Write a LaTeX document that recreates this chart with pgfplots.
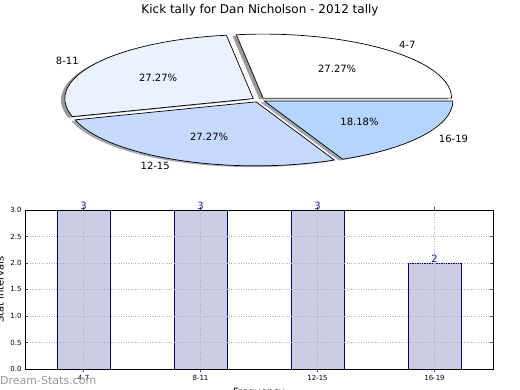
\documentclass[border=0pt]{standalone}
\usepackage{pgfplots}
\pgfplotsset{compat=1.18}
\usepackage{pgfplotstable}
\usepackage{fontspec}
\setmainfont{DejaVu Sans}
\definecolor{wA}{HTML}{FFFFFF}
\definecolor{wB}{HTML}{EBF2FF}
\definecolor{wC}{HTML}{C6D9FF}
\definecolor{wD}{HTML}{B3D5FF}
\definecolor{barfill}{HTML}{CCCCE5}
\definecolor{navy}{HTML}{000080}
\definecolor{valblue}{HTML}{1A1A99}
\definecolor{shadowgray}{HTML}{9A9A9A}

\pgfplotstableread{
x label count
0 4-7 3
1 8-11 3
2 12-15 3
3 16-19 2
}\tally

% pie data (same counts)
\def\cA{3}\def\cB{3}\def\cC{3}\def\cD{2}
\pgfmathsetmacro\ctot{\cA+\cB+\cC+\cD}
\pgfmathsetmacro\aA{0}
\pgfmathsetmacro\aB{\cA/\ctot*360}
\pgfmathsetmacro\aC{(\cA+\cB)/\ctot*360}
\pgfmathsetmacro\aD{(\cA+\cB+\cC)/\ctot*360}
\pgfmathsetmacro\aE{360}

\def\pieexplode{0.035}
\def\rx{188.5pt}
\def\ry{64pt}
\tikzset{
  pielabel/.style={font=\fontsize{10}{12}\selectfont, inner sep=0pt},
}
\newcommand\pieslice[5]{% start, end, fill, dx, dy
  \pgfmathsetmacro\pmid{(#1+#2)/2}%
  \pgfmathsetmacro\psx{\pieexplode*cos(\pmid)+#4}%
  \pgfmathsetmacro\psy{\pieexplode*sin(\pmid)+#5}%
  \edef\pcmd{\noexpand\filldraw[#3] (axis cs:\psx,\psy) -- ++(#1:\rx\space and \ry) arc[start angle=#1, end angle=#2, x radius=\rx, y radius=\ry] -- cycle;}%
  \pcmd}
\newcommand\pielabels[4]{% start, end, label, pct
  \pgfmathsetmacro\pmid{(#1+#2)/2}%
  \pgfmathsetmacro\plx{(\pieexplode+1.1)*cos(\pmid)}%
  \pgfmathsetmacro\ply{(\pieexplode+1.1)*sin(\pmid)}%
  \pgfmathsetmacro\ppx{(\pieexplode+0.6)*cos(\pmid)}%
  \pgfmathsetmacro\ppy{(\pieexplode+0.6)*sin(\pmid)}%
  \ifdim\plx pt>0pt
    \edef\pcmd{\noexpand\node[pielabel, anchor=west] at (axis cs:\plx,\ply) {#3};}%
  \else
    \edef\pcmd{\noexpand\node[pielabel, anchor=east] at (axis cs:\plx,\ply) {#3};}%
  \fi
  \pcmd
  \edef\pcmd{\noexpand\node[pielabel, anchor=center] at (axis cs:\ppx,\ppy) {#4};}%
  \pcmd}

\begin{document}
\begin{tikzpicture}
\path[use as bounding box] (0pt,0pt) rectangle (520pt,390pt);
\clip (0pt,0pt) rectangle (520pt,390pt);

% title
\node[font=\fontsize{12}{14}\selectfont] at (260pt,380pt) {Kick tally for Dan Nicholson - 2012 tally};

% pie
\begin{axis}[
  at={(258.8pt,290.2pt)}, anchor=center,
  scale only axis, width=452.4pt, height=153.6pt,
  xmin=-1.2, xmax=1.2, ymin=-1.2, ymax=1.2,
  hide axis, clip=false,
]
\addplot[draw=none] coordinates {(0,0)};
% shadows
\pieslice{\aA}{\aB}{shadowgray, draw=none}{-0.02}{-0.02}
\pieslice{\aB}{\aC}{shadowgray, draw=none}{-0.02}{-0.02}
\pieslice{\aC}{\aD}{shadowgray!80!wC, draw=none}{-0.02}{-0.02}
\pieslice{\aD}{\aE}{shadowgray!80!wD, draw=none}{-0.02}{-0.02}
% wedges
\pieslice{\aA}{\aB}{fill=wA, draw=black, line width=0.7pt}{0}{0}
\pieslice{\aB}{\aC}{fill=wB, draw=black, line width=0.7pt}{0}{0}
\pieslice{\aC}{\aD}{fill=wC, draw=black, line width=0.7pt}{0}{0}
\pieslice{\aD}{\aE}{fill=wD, draw=black, line width=0.7pt}{0}{0}
% labels
\pielabels{\aA}{\aB}{4-7}{27.27\%}
\pielabels{\aB}{\aC}{8-11}{27.27\%}
\pielabels{\aC}{\aD}{12-15}{27.27\%}
\pielabels{\aD}{\aE}{16-19}{18.18\%}
\end{axis}

% bar chart
\begin{axis}[
  at={(25pt,21pt)}, anchor=south west,
  scale only axis, width=468pt, height=159pt,
  xmin=-0.5, xmax=3.5, ymin=0, ymax=3,
  xtick={0,1,2,3}, xticklabels={4-7,8-11,12-15,16-19},
  ytick={0,0.5,1,1.5,2,2.5,3},
  yticklabel style={/pgf/number format/.cd, fixed, fixed zerofill, precision=1},
  /pgf/number format/assume math mode=true,
  tick label style={font=\fontsize{7}{8}\selectfont, text=black},
  tick align=inside, major tick length=3pt,
  tick style={black!70, line width=0.5pt},
  xticklabel pos=lower, yticklabel pos=left,
  tick pos=both,
  grid=major, major grid style={dotted, black!30, line width=0.6pt},
  axis line style={black, line width=0.8pt},
  axis on top,
  ybar, bar width=0.45,
  nodes near coords,
  every node near coord/.append style={font=\fontsize{10}{12}\selectfont, text=valblue, inner sep=0.3pt, anchor=south},
  xlabel={Frequency}, ylabel={Stat intervals},
  every axis x label/.style={at={(axis description cs:0.5,-0.1)}, anchor=north, font=\fontsize{10}{12}\selectfont},
  every axis y label/.style={at={(axis description cs:-0.0534,0.5)}, rotate=90, anchor=center, font=\fontsize{10}{12}\selectfont},
]
\addplot[fill=barfill, draw=navy, line width=0.6pt] table[x=x, y=count] {\tally};
\end{axis}

% watermark
\node[anchor=west, inner sep=0pt, text=black!40, font=\fontsize{11}{13}\selectfont] at (0pt,9pt) {Dream-Stats.com};
\end{tikzpicture}
\end{document}
